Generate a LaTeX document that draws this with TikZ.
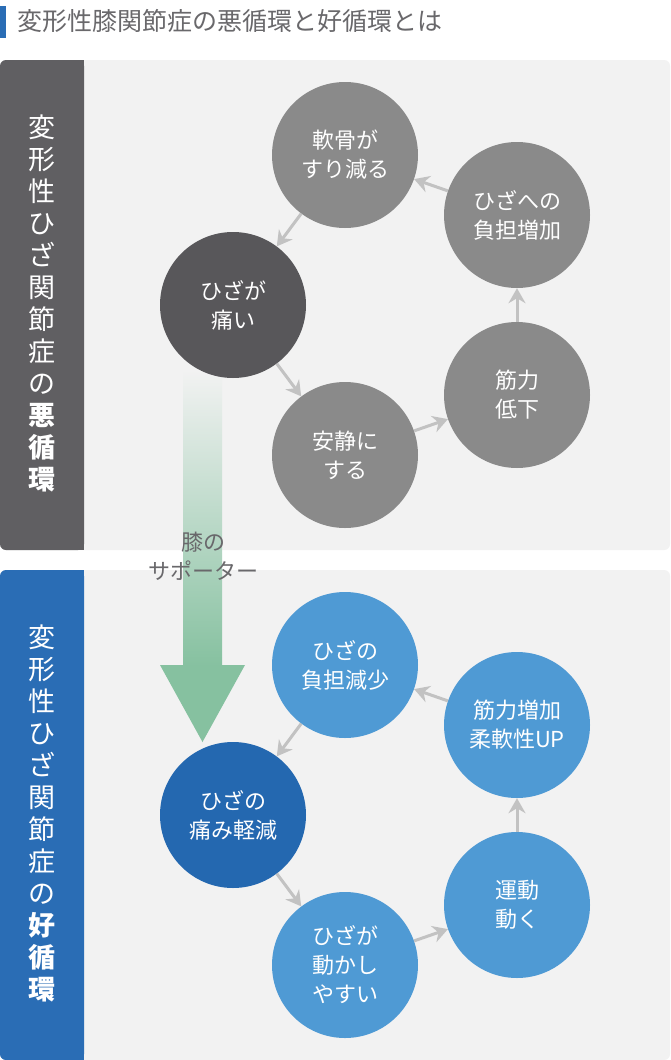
\documentclass[tikz,border=0pt]{standalone}
\usepackage{fontspec}
\setmainfont{Noto Sans CJK JP}
\usetikzlibrary{arrows.meta,shadings}
\definecolor{bg}{HTML}{F2F2F2}
\definecolor{cg}{HTML}{8A8A8A}
\definecolor{cdg}{HTML}{58575A}
\definecolor{cb}{HTML}{4F9AD4}
\definecolor{cdb}{HTML}{2468B0}
\definecolor{band}{HTML}{2A6DB5}
\definecolor{arr}{HTML}{C2C2C2}
\definecolor{grn}{HTML}{86C1A0}
\tikzset{
 circ/.style={circle,minimum size=146pt,inner sep=0pt,text=white,font=\fontsize{22}{29}\selectfont,align=center},
 cyc/.style={arr,line width=3pt,-{Stealth[length=15pt,width=17pt,inset=5pt]}},
 vtxt/.style={text=white,font=\fontsize{27}{32}\selectfont,align=center,inner sep=0pt}
}
\begin{document}
\begin{tikzpicture}[x=1pt,y=-1pt]
\useasboundingbox (0,0) rectangle (670,1060);
\fill[white] (0,0) rectangle (670,1060);
% title
\fill[band] (0,6) rectangle (6,38);
\node[anchor=west,text=cdg!90,font=\fontsize{25}{30}\selectfont,inner sep=0pt] (title) at (17,21) {変形性膝関節症の悪循環と好循環とは};
% panel 1
\fill[bg,rounded corners=6pt] (0,60) rectangle (670,550);
\fill[cdg!95,rounded corners=6pt] (0,60) rectangle (84,550);
\fill[cdg!95] (60,60) rectangle (84,550);
\node[vtxt] (v1) at (42,303) {変\\形\\性\\ひ\\ざ\\関\\節\\症\\の\\\textbf{悪}\\\textbf{循}\\\textbf{環}};
% panel 2
\fill[bg,rounded corners=6pt] (0,570) rectangle (670,1060);
\fill[band,rounded corners=6pt] (0,570) rectangle (84,1060);
\fill[band] (60,570) rectangle (84,1060);
\node[vtxt] (v2) at (42,813) {変\\形\\性\\ひ\\ざ\\関\\節\\症\\の\\\textbf{好}\\\textbf{循}\\\textbf{環}};
% big arrow
\shade[top color=bg,bottom color=grn] (183,370) rectangle (222,666);
\fill[grn] (160,665) -- (245,665) -- (202.5,742) -- cycle;
\node[text=cdg!90,font=\fontsize{22}{29}\selectfont,align=center] (sup) at (203,556) {膝の\\サポーター};
% cycle 1
\node[circ,fill=cg] (a1) at (345,155) {軟骨が\\すり減る};
\node[circ,fill=cg] (a2) at (517,215) {ひざへの\\負担増加};
\node[circ,fill=cg] (a3) at (517,395) {筋力\\低下};
\node[circ,fill=cg] (a4) at (345,455) {安静に\\する};
\node[circ,fill=cdg] (a5) at (233,305) {ひざが\\痛い};
\draw[cyc] (a1) -- (a5);
\draw[cyc] (a5) -- (a4);
\draw[cyc] (a4) -- (a3);
\draw[cyc] (a3) -- (a2);
\draw[cyc] (a2) -- (a1);
% cycle 2
\node[circ,fill=cb] (b1) at (345,665) {ひざの\\負担減少};
\node[circ,fill=cb] (b2) at (517,725) {筋力増加\\柔軟性UP};
\node[circ,fill=cb] (b3) at (517,905) {運動\\動く};
\node[circ,fill=cb] (b4) at (345,965) {ひざが\\動かし\\やすい};
\node[circ,fill=cdb] (b5) at (233,815) {ひざの\\痛み軽減};
\draw[cyc] (b1) -- (b5);
\draw[cyc] (b5) -- (b4);
\draw[cyc] (b4) -- (b3);
\draw[cyc] (b3) -- (b2);
\draw[cyc] (b2) -- (b1);
\end{tikzpicture}
\end{document}
